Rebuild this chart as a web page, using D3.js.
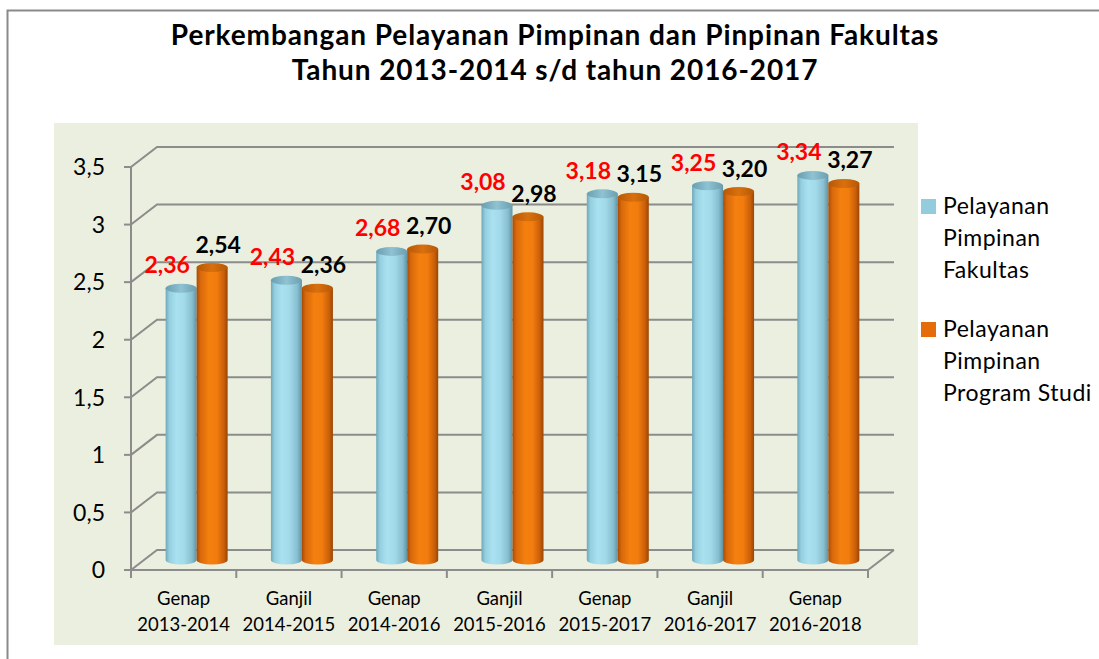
<!DOCTYPE html>
<html>
<head>
<meta charset="utf-8">
<script src="https://cdn.jsdelivr.net/npm/d3@7"></script>
<style>
  html, body { margin: 0; padding: 0; background: #fff; }
  svg { display: block; font-family: Lato, "Open Sans", sans-serif; }
</style>
</head>
<body>
<svg id="chart" width="1099" height="659"></svg>
<script>
const categories = [
  ["Genap", "2013-2014"],
  ["Ganjil", "2014-2015"],
  ["Genap", "2014-2016"],
  ["Ganjil", "2015-2016"],
  ["Genap", "2015-2017"],
  ["Ganjil", "2016-2017"],
  ["Genap", "2016-2018"]
];
const seriesNames = ["Pelayanan Pimpinan Fakultas", "Pelayanan Pimpinan Program Studi"];
const fakultas = [2.36, 2.43, 2.68, 3.08, 3.18, 3.25, 3.34];
const prodi    = [2.54, 2.36, 2.70, 2.98, 3.15, 3.20, 3.27];
const yTicks = [0, 0.5, 1, 1.5, 2, 2.5, 3, 3.5];
const yTickLabels = ["0", "0,5", "1", "1,5", "2", "2,5", "3", "3,5"];
const titleLines = ["Perkembangan Pelayanan Pimpinan dan Pinpinan Fakultas", "Tahun 2013-2014 s/d tahun 2016-2017"];
const legendLines = [["Pelayanan", "Pimpinan", "Fakultas"], ["Pelayanan", "Pimpinan", "Program Studi"]];

const svg = d3.select("#chart");
const fmt = v => v.toFixed(2).replace(".", ",");

// outer chart border
svg.append("path").attr("d", "M7.5,659 L7.5,10.5 L1099,10.5")
  .attr("fill", "none").attr("stroke", "#8a8a8a").attr("stroke-width", 2);

// plot area background
svg.append("rect").attr("x", 54).attr("y", 123).attr("width", 864).attr("height", 522)
  .attr("fill", "#ebefdf");

// title
svg.append("g").selectAll("text").data(titleLines).join("text")
  .attr("x", 555).attr("y", (d, i) => 45 + i * 35)
  .attr("text-anchor", "middle").attr("font-weight", "bold").attr("font-size", 28)
  .attr("letter-spacing", 0.9)
  .attr("fill", "#000").text(d => d);

// 3D geometry
const depthX = 26, depthY = -20;
const y = d3.scaleLinear().domain([0, 3.5]).range([570, 167]);
const x0 = d3.scaleBand().domain(d3.range(categories.length)).range([131, 868]);
const pairW = 62;
const x1 = d3.scaleBand().domain([0, 1])
  .range([(x0.bandwidth() - pairW) / 2 + depthX / 2, (x0.bandwidth() + pairW) / 2 + depthX / 2]);

const gridColor = "#8c8c8c";
const grid = svg.append("g").attr("fill", "none").attr("stroke", gridColor).attr("stroke-width", 2);
const xLeft = x0.range()[0], xRight = x0.range()[1];

// back wall gridlines + left side diagonals
yTicks.forEach(v => {
  grid.append("path").attr("d",
    `M${xLeft},${y(v)} L${xLeft + depthX},${y(v) + depthY} L${xRight + depthX},${y(v) + depthY}`);
});
// floor front and right edges
grid.append("path").attr("d",
  `M${xLeft},${y(0)} L${xRight},${y(0)} L${xRight + depthX},${y(0) + depthY}`);
// vertical axis
grid.append("line").attr("x1", xLeft).attr("x2", xLeft).attr("y1", y(3.5)).attr("y2", y(0));
// y ticks
yTicks.forEach(v => {
  grid.append("line").attr("x1", xLeft - 7).attr("x2", xLeft).attr("y1", y(v)).attr("y2", y(v));
});
// category ticks
d3.range(categories.length + 1).forEach(i => {
  const xx = xLeft + i * x0.step();
  grid.append("line").attr("x1", xx).attr("x2", xx).attr("y1", y(0)).attr("y2", y(0) + 8);
});

// y labels
svg.append("g").selectAll("text").data(yTicks).join("text")
  .attr("x", 105).attr("y", d => y(d)).attr("dy", "0.36em")
  .attr("text-anchor", "end").attr("font-size", 23).attr("fill", "#000")
  .text((d, i) => yTickLabels[i]);

// category labels
const catG = svg.append("g").attr("font-size", 18.5).attr("fill", "#000").attr("text-anchor", "middle");
categories.forEach((c, i) => {
  c.forEach((line, j) => {
    catG.append("text").attr("x", x0(i) + x0.bandwidth() / 2).attr("y", 605 + j * 26).text(line);
  });
});

// gradients
const defs = svg.append("defs");
function grad(id, stops) {
  const g = defs.append("linearGradient").attr("id", id).attr("x1", 0).attr("x2", 1).attr("y1", 0).attr("y2", 0);
  stops.forEach(s => g.append("stop").attr("offset", s[0]).attr("stop-color", s[1]));
}
grad("gBlue", [[0, "#6ea7b8"], [0.12, "#94cfe0"], [0.35, "#aae1f0"], [0.6, "#a2daea"], [0.85, "#88bfd0"], [1, "#5f93a3"]]);
grad("gBlueTop", [[0, "#6a9fb0"], [0.5, "#8fc2d2"], [1, "#6a9fb0"]]);
grad("gOrange", [[0, "#a84b06"], [0.12, "#d8680b"], [0.4, "#f4800f"], [0.65, "#f27c0e"], [0.88, "#c95f09"], [1, "#9a4505"]]);
grad("gOrangeTop", [[0, "#b65806"], [0.5, "#d9700e"], [1, "#b65806"]]);

const series = [
  { values: fakultas, body: "url(#gBlue)", top: "url(#gBlueTop)", label: "#ff0000", dx: -14 },
  { values: prodi, body: "url(#gOrange)", top: "url(#gOrangeTop)", label: "#000000", dx: 6 }
];
const ry = 4.5;
const baseY = y(0) + depthY / 2;
const barsG = svg.append("g");
categories.forEach((c, i) => {
  series.forEach((s, k) => {
    const v = s.values[i];
    const xl = x0(i) + x1(k), w = x1.bandwidth(), rx = w / 2;
    const top = y(v) + depthY / 2;
    barsG.append("path")
      .attr("d", `M${xl},${top} L${xl},${baseY} A${rx},${ry} 0 0 0 ${xl + w},${baseY} L${xl + w},${top} Z`)
      .attr("fill", s.body);
    barsG.append("ellipse").attr("cx", xl + rx).attr("cy", top).attr("rx", rx).attr("ry", ry)
      .attr("fill", s.top);
  });
});

// data labels
const lblG = svg.append("g").attr("font-size", 23).attr("font-weight", "bold").attr("text-anchor", "middle");
categories.forEach((c, i) => {
  series.forEach((s, k) => {
    const v = s.values[i];
    const cx = x0(i) + x1(k) + x1.bandwidth() / 2 + s.dx;
    lblG.append("text").attr("x", cx).attr("y", y(v) + depthY / 2 - 15)
      .attr("fill", s.label).text(fmt(v));
  });
});

// legend
const legColors = ["#93cddd", "#e46c0a"];
const legG = svg.append("g").attr("font-size", 23).attr("letter-spacing", 0.5).attr("fill", "#000");
legendLines.forEach((lines, k) => {
  const top = 199 + k * 123;
  legG.append("rect").attr("x", 921).attr("y", top).attr("width", 15).attr("height", 15).attr("fill", legColors[k]);
  lines.forEach((t, j) => {
    legG.append("text").attr("x", 943).attr("y", top + 15 + j * 32).text(t);
  });
});
</script>
</body>
</html>
